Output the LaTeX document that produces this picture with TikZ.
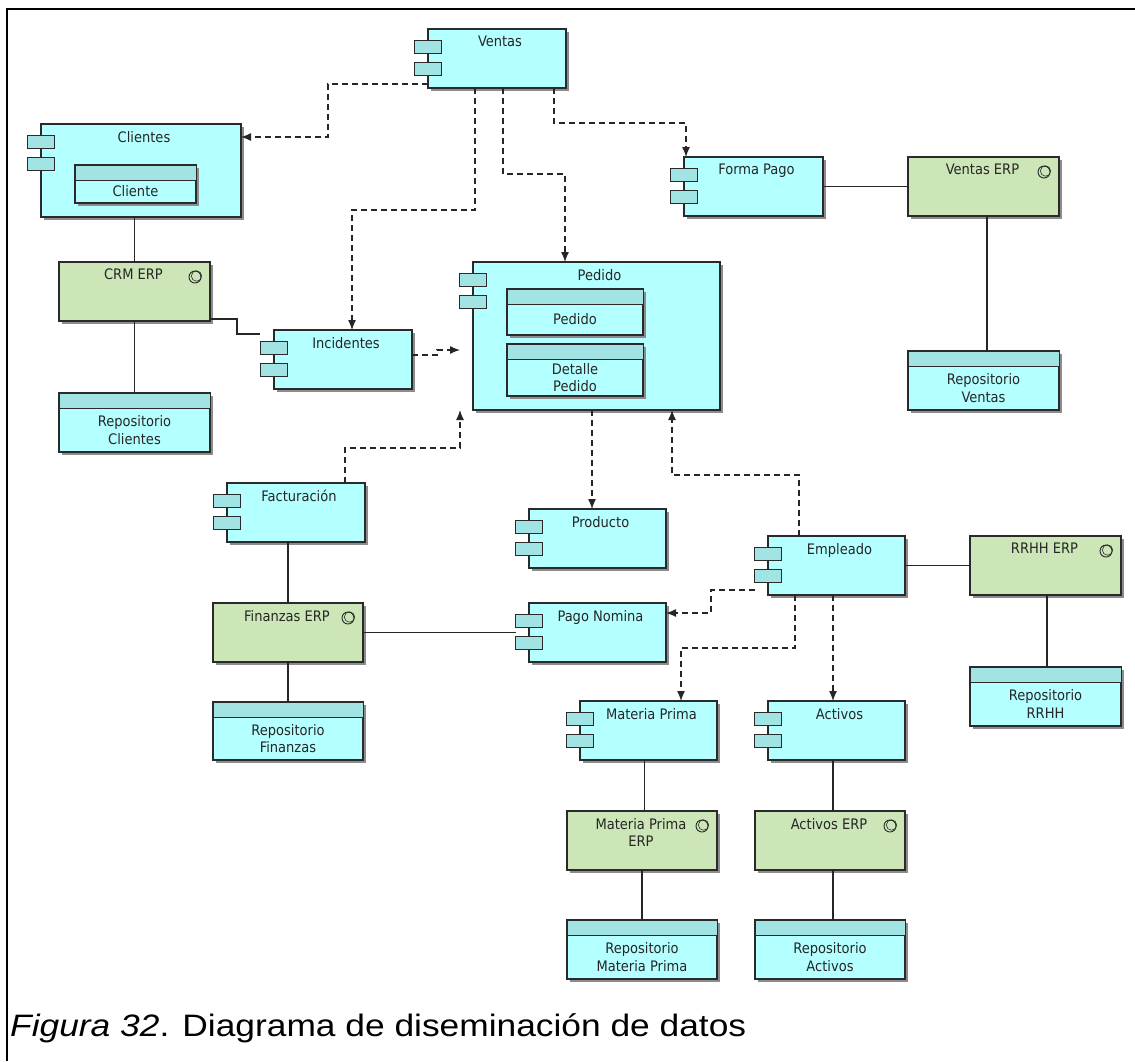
\documentclass[tikz,border=0pt]{standalone}
\usepackage{fontspec}
\newfontfamily\diafont{DejaVu Sans Condensed}
\newfontfamily\capfont{Liberation Sans}
\usetikzlibrary{arrows.meta,shadows,calc}
\definecolor{compfill}{HTML}{B4FFFF}
\definecolor{tabfill}{HTML}{A2E3E3}
\definecolor{erpfill}{HTML}{CCE6B8}
\definecolor{edgec}{HTML}{2A2A2A}

\tikzset{
  box/.style={draw=edgec, line width=1.1pt, rectangle, inner sep=0pt, outer sep=0pt,
    drop shadow={shadow xshift=2.5pt, shadow yshift=-2.5pt, fill=black!45, opacity=1}},
  cbox/.style={box, fill=compfill},
  gbox/.style={box, fill=erpfill},
  tabbox/.style={draw=edgec, line width=1pt, fill=tabfill, rectangle,
    minimum width=27pt, minimum height=13pt, inner sep=0pt, outer sep=0pt},
  band/.style={draw=edgec, line width=1pt, fill=tabfill, rectangle, inner sep=0pt, outer sep=0pt},
  lbl/.style={font=\diafont\fontsize{14.5}{17.5}\selectfont, text=black!85, inner sep=0pt, align=center},
  dep/.style={draw=black!85, line width=1.3pt, dash pattern=on 6pt off 4pt,
    -{Latex[length=10pt,width=8pt]}},
  link/.style={draw=black!85, line width=1.3pt},
}

% component: name, centre x, centre y, width, height, label
\newcommand\CompBox[6]{%
  \node[cbox, minimum width=#4pt, minimum height=#5pt] (#1) at (#2,#3) {};
  \node[tabbox] (#1-t1) at ({#2-#4/2},{#3-#5/2+17.5}) {};
  \node[tabbox] (#1-t2) at ({#2-#4/2},{#3-#5/2+39.5}) {};
  \node[lbl, anchor=north] (#1-lbl) at ({#2+3},{#3-#5/2+7}) {#6};
}
% application service: name, centre x, centre y, width, height, label
\newcommand\ErpBox[6]{%
  \node[gbox, minimum width=#4pt, minimum height=#5pt] (#1) at (#2,#3) {};
  \node[lbl, anchor=north] (#1-lbl) at ({#2-1},{#3-#5/2+7}) {#6};
  \draw[edgec, line width=0.9pt] ({#2+#4/2-15},{#3-#5/2+15}) circle (6pt);
  \draw[edgec, line width=0.6pt] ({#2+#4/2-13.5},{#3-#5/2+14}) circle (5.2pt);
}
% data object: name, centre x, top y, width, height, label
\newcommand\DataBox[6]{%
  \node[cbox, minimum width=#4pt, minimum height=#5pt] (#1) at (#2,{#3+#5/2}) {};
  \node[band, minimum width=#4pt, minimum height=15pt] (#1-hd) at (#2,{#3+7.5}) {};
  \node[lbl] (#1-lbl) at (#2,{#3+15+(#5-15)/2}) {#6};
}

\begin{document}
\begin{tikzpicture}[x=1pt, y=-1pt]
\useasboundingbox (0,0) rectangle (1135,1061);
\fill[white] (0,0) rectangle (1135,1061);

% frame
\draw[line width=2.5pt] (7,1061) -- (7,9) -- (1135,9);

% components
\CompBox{ventas}{497}{58.5}{138}{59}{Ventas}
\CompBox{clientes}{141}{170.5}{200}{93}{Clientes}
\DataBox{cliente}{135.5}{165}{121}{38}{Cliente}
\CompBox{incid}{343}{359.5}{138}{59}{Incidentes}
\CompBox{pedido}{596.5}{336}{247}{148}{Pedido}
\DataBox{pedidoobj}{575}{289}{136}{46}{Pedido}
\DataBox{detalle}{575}{344}{136}{52}{Detalle\\Pedido}
\CompBox{forma}{753.5}{186.5}{139}{59}{Forma Pago}
\CompBox{fact}{296}{512.5}{138}{59}{Facturación}
\CompBox{prod}{597.5}{538.5}{137}{59}{Producto}
\CompBox{emp}{836.5}{565.5}{137}{59}{Empleado}
\CompBox{pago}{597.5}{632.5}{137}{59}{Pago Nomina}
\CompBox{mp}{648.5}{730.5}{137}{59}{Materia Prima}
\CompBox{act}{836.5}{730.5}{137}{59}{Activos}

% ERP services
\ErpBox{crm}{134.5}{291.5}{151}{59}{CRM ERP}
\ErpBox{ventaserp}{983.5}{186.5}{151}{59}{Ventas ERP}
\ErpBox{rrhh}{1045.5}{565.5}{151}{59}{RRHH ERP}
\ErpBox{finerp}{288}{632.5}{150}{59}{Finanzas ERP}
\ErpBox{mperp}{642}{840.5}{150}{59}{Materia Prima\\ERP}
\ErpBox{acterp}{830}{840.5}{150}{59}{Activos ERP}

% repositories
\DataBox{repocli}{134.5}{393}{151}{59}{Repositorio\\Clientes}
\DataBox{repoventas}{983.5}{351}{151}{59}{Repositorio\\Ventas}
\DataBox{reporrhh}{1045.5}{667}{151}{59}{Repositorio\\RRHH}
\DataBox{repofin}{288}{702}{150}{58}{Repositorio\\Finanzas}
\DataBox{repomp}{642}{920}{150}{59}{Repositorio\\Materia Prima}
\DataBox{repoact}{830}{920}{150}{59}{Repositorio\\Activos}

% solid links
\draw[link] (crm.north) -- (crm.north |- clientes.south);
\draw[link] (crm.south) -- (repocli.north);
\draw[link] ([yshift=2pt]crm.south east) -- ++(27,0) |- ([xshift=-14pt,yshift=25.5pt]incid.west);
\draw[link] (forma.east) -- (ventaserp.west);
\draw[link] ([xshift=3.5pt]ventaserp.south) -- ([xshift=3.5pt]repoventas.north);
\draw[link] (finerp.north) -- (finerp.north |- fact.south);
\draw[link] (finerp.south) -- (repofin.north);
\draw[link] (finerp.east) -- ([xshift=-13pt]pago.west);
\draw[link] (emp.east) -- (rrhh.west |- emp.east);
\draw[link] ([xshift=1.5pt]rrhh.south) -- ([xshift=1.5pt]reporrhh.north);
\draw[link] ([xshift=2.5pt]mperp.north) -- ([xshift=2.5pt]mperp.north |- mp.south);
\draw[link] (mperp.south) -- (repomp.north);
\draw[link] ([xshift=3pt]acterp.north) -- ([xshift=3pt]acterp.north |- act.south);
\draw[link] ([xshift=3pt]acterp.south) -- ([xshift=3pt]repoact.north);

% dependencies
\draw[dep] ([yshift=4pt]ventas.south west) -- ++(-100,0) |- ([yshift=33.5pt]clientes.east);
\draw[dep] ([xshift=-22pt]ventas.south) -- ++(0,122) -| ([xshift=9pt]incid.north);
\draw[dep] ([xshift=6pt]ventas.south) -- ++(0,86) -| ([xshift=-31.5pt]pedido.north);
\draw[dep] ([xshift=57pt]ventas.south) -- ++(0,35) -| ([xshift=-67.5pt]forma.north);
\draw[dep] ([yshift=4.5pt]incid.east) -- ++(25,0) |- ([xshift=-13pt,yshift=-14pt]pedido.west);
\draw[dep] ([xshift=49pt]fact.north) -- ++(0,-35) -| ([xshift=-13pt]pedido.south west);
\draw[dep] ([xshift=-4.5pt]pedido.south) -- ([xshift=-5.5pt]prod.north);
\draw[dep] ([xshift=-37.5pt]emp.north) -- ++(0,-61) -| ([xshift=75.5pt]pedido.south);
\draw[dep] ([xshift=-13pt,yshift=5pt]emp.south west) -- ++(-44,0) |- ([yshift=19.5pt]pago.east);
\draw[dep] ([xshift=-41.5pt]emp.south) -- ++(0,53) -| ([xshift=32.5pt]mp.north);
\draw[dep] ([xshift=-3.5pt]emp.south) -- ([xshift=-3.5pt]act.north);

% caption
\node[anchor=base west, inner sep=0pt, xscale=1.14, font=\capfont\fontsize{31}{36}\selectfont] (caption) at (10,1036)
  {\textit{Figura 32}. Diagrama de diseminación de datos};
\end{tikzpicture}
\end{document}
